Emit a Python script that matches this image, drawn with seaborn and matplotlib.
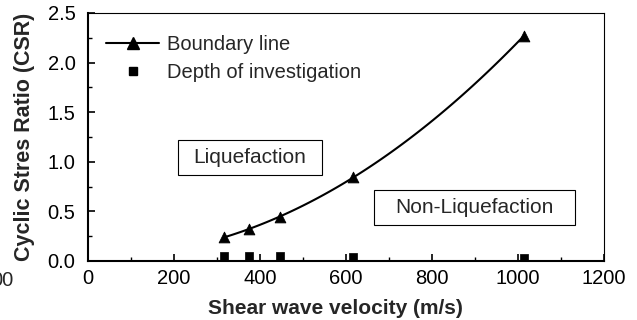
import numpy as np
import pandas as pd
import seaborn as sns
import matplotlib
matplotlib.use("Agg")
import matplotlib.pyplot as plt
from matplotlib.lines import Line2D
from matplotlib.patches import Rectangle
from matplotlib.ticker import MultipleLocator

sns.set_theme(style="ticks")
plt.rcParams['font.family'] = ['Liberation Sans', 'DejaVu Sans']

vs_boundary = [316, 375, 447, 617, 1014]
csr_boundary = [0.245, 0.32, 0.44, 0.85, 2.27]
vs_depth = [316, 375, 447, 617, 1014]
csr_depth = [0.05, 0.05, 0.05, 0.04, 0.03]

df_b = pd.DataFrame({"vs": vs_boundary, "csr": csr_boundary})
df_d = pd.DataFrame({"vs": vs_depth, "csr": csr_depth})

fig = plt.figure(figsize=(6.37, 3.2), dpi=100)
ax = fig.add_axes([88/637, 1-261/320, (604-88)/637, (261-13)/320])

sns.regplot(data=df_b, x="vs", y="csr", order=2, ci=None, ax=ax,
            scatter=False, line_kws=dict(color="black", lw=1.5))
sns.scatterplot(data=df_b, x="vs", y="csr", marker="^", s=60, color="black",
                edgecolor="black", ax=ax, zorder=5)
sns.scatterplot(data=df_d, x="vs", y="csr", marker="s", s=40, color="black",
                edgecolor="black", ax=ax, zorder=5)

ax.set_xlim(0, 1200)
ax.set_ylim(0, 2.5)
ax.xaxis.set_major_locator(MultipleLocator(200))
ax.xaxis.set_minor_locator(MultipleLocator(100))
ax.yaxis.set_major_locator(MultipleLocator(0.5))
ax.yaxis.set_minor_locator(MultipleLocator(0.25))
ax.yaxis.set_major_formatter(matplotlib.ticker.FormatStrFormatter('%.1f'))
ax.tick_params(which="both", direction="in", top=False, right=False,
               labelsize=14.5, colors="black")
ax.tick_params(which="major", length=5, width=1.2)
ax.tick_params(which="minor", length=3, width=1.0)
ax.tick_params(axis="y", which="major", pad=9)
ax.tick_params(axis="x", which="major", pad=6)
for s in ["left", "bottom"]:
    ax.spines[s].set_linewidth(1.5)
for s in ["top", "right"]:
    ax.spines[s].set_linewidth(0.8)
for s in ax.spines.values():
    s.set_color("black")

ax.set_xlabel("Shear wave velocity (m/s)", fontsize=15, fontweight="bold")
ax.set_ylabel("Cyclic Stres Ratio (CSR)", fontsize=15.5, fontweight="bold")
ax.xaxis.set_label_coords(0.48, -0.152)
ax.yaxis.set_label_coords(-0.103, 0.5)

handles = [Line2D([0], [0], color="black", lw=1.5, marker="^", markersize=8),
           Line2D([0], [0], color="none", marker="s", markersize=6,
                  markerfacecolor="black", markeredgecolor="black")]
ax.legend(handles, ["Boundary line", "Depth of investigation"], loc="upper left",
          frameon=False, fontsize=14.5, handlelength=2.6, handletextpad=0.4,
          borderaxespad=0.0, bbox_to_anchor=(0.02, 0.945), labelspacing=0.45)

ax.add_patch(Rectangle((209, 0.867), 335, 0.353, fill=True, fc="white",
                       ec="black", lw=0.8, zorder=3))
ax.add_patch(Rectangle((665, 0.363), 468, 0.353, fill=True, fc="white",
                       ec="black", lw=0.8, zorder=3))
ax.text(377, 1.043, "Liquefaction", fontsize=15, ha="center", va="center", zorder=4)
ax.text(899, 0.54, "Non-Liquefaction", fontsize=15, ha="center", va="center", zorder=4)

fig.text(13.5/637, 1-280/320, "00", fontsize=14.5, ha="right", va="center")

fig.savefig("out.png", dpi=100)
